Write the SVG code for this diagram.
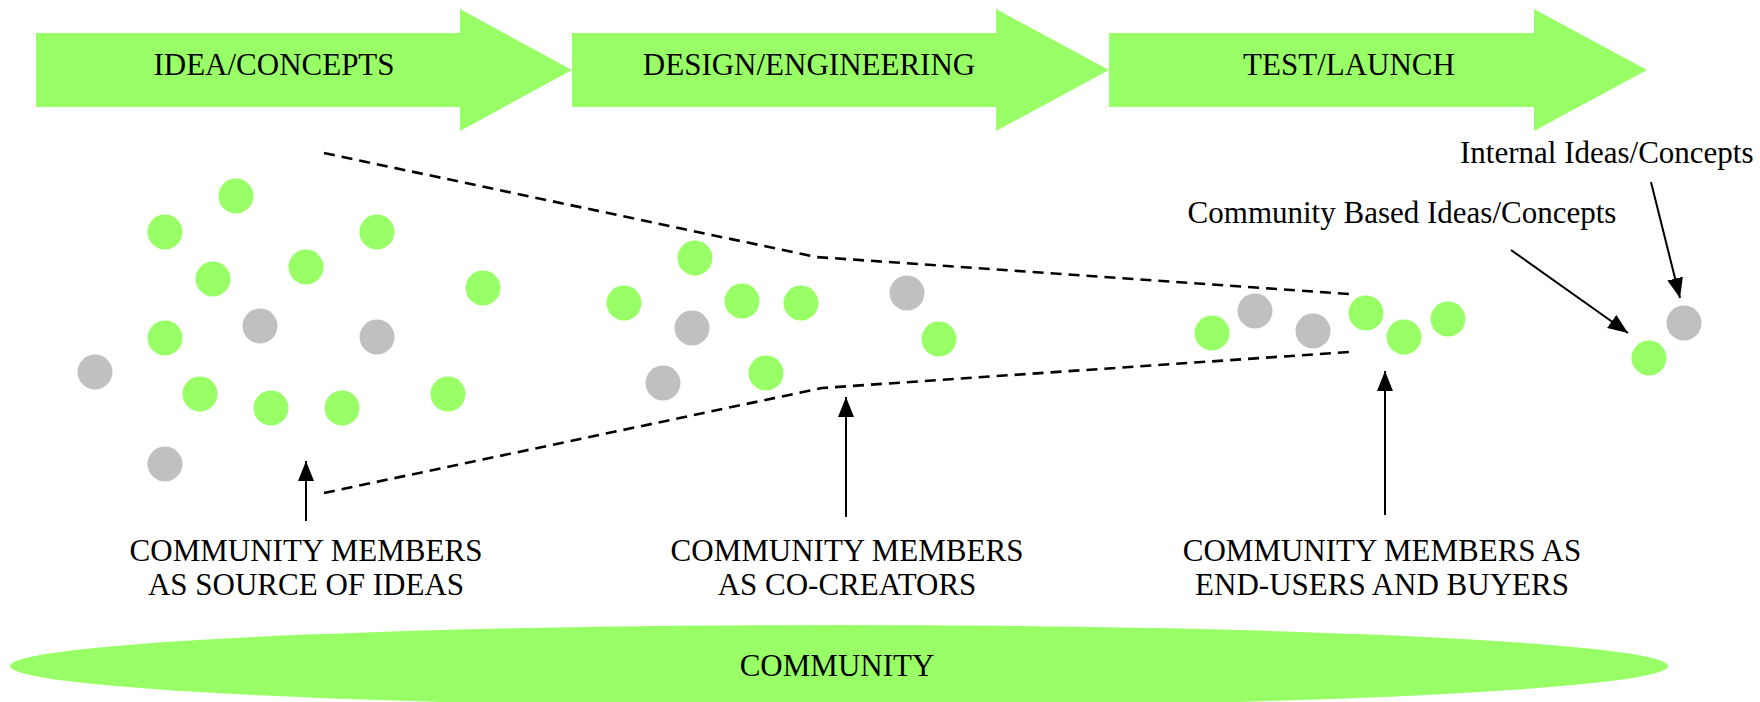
<svg xmlns="http://www.w3.org/2000/svg" width="1760" height="702" viewBox="0 0 1760 702">
<defs>
<style>
.stage{fill:#99FF66;}
.g{fill:#99FF66;}
.x{fill:#C0C0C0;}
.t{font-family:"Liberation Serif","Times New Roman",serif;font-size:31px;fill:#000;}
.c{text-anchor:middle;}
.dash{fill:none;stroke:#000;stroke-width:2.6;stroke-dasharray:11 7;stroke-linejoin:round;}
.ar{stroke:#000;stroke-width:2;fill:none;marker-end:url(#ah);}
</style>
<marker id="ah" markerUnits="userSpaceOnUse" markerWidth="22" markerHeight="18" refX="20" refY="8" orient="auto">
<path d="M0,0 L20,8 L0,16 z" fill="#000"/>
</marker>
</defs>
<rect width="1760" height="702" fill="#fff"/>

<g id="stage-idea">
<polygon class="stage" points="36,33 460,33 460,9 572,70 460,131 460,107 36,107"/>
<text class="t c" x="274" y="75">IDEA/CONCEPTS</text>
</g>
<g id="stage-design">
<polygon class="stage" points="572,33 996,33 996,9 1109,70 996,131 996,107 572,107"/>
<text class="t c" x="809" y="75">DESIGN/ENGINEERING</text>
</g>
<g id="stage-test">
<polygon class="stage" points="1109,33 1534,33 1534,9 1647,70 1534,131 1534,107 1109,107"/>
<text class="t c" x="1349" y="75">TEST/LAUNCH</text>
</g>

<g id="community">
<ellipse class="stage" cx="839" cy="666" rx="829" ry="41"/>
<text class="t c" x="837" y="676">COMMUNITY</text>
</g>

<g id="funnel">
<path class="dash" d="M324,153 L816,257 L1349,294"/>
<path class="dash" d="M324,493 L822,388 L1349,352"/>
</g>

<g id="ideas-left">
<circle class="g" cx="236" cy="196" r="17.5"/>
<circle class="g" cx="165" cy="232" r="17.5"/>
<circle class="g" cx="377" cy="232" r="17.5"/>
<circle class="g" cx="213" cy="279" r="17.5"/>
<circle class="g" cx="306" cy="267" r="17.5"/>
<circle class="g" cx="483" cy="288" r="17.5"/>
<circle class="g" cx="165" cy="338" r="17.5"/>
<circle class="g" cx="200" cy="394" r="17.5"/>
<circle class="g" cx="271" cy="408" r="17.5"/>
<circle class="g" cx="342" cy="408" r="17.5"/>
<circle class="g" cx="448" cy="394" r="17.5"/>
<circle class="x" cx="260" cy="326" r="17.5"/>
<circle class="x" cx="377" cy="337" r="17.5"/>
<circle class="x" cx="95" cy="372" r="17.5"/>
<circle class="x" cx="165" cy="464" r="17.5"/>
</g>

<g id="ideas-middle">
<circle class="g" cx="695" cy="258" r="17.5"/>
<circle class="g" cx="624" cy="303" r="17.5"/>
<circle class="g" cx="742" cy="301" r="17.5"/>
<circle class="g" cx="801" cy="303" r="17.5"/>
<circle class="g" cx="766" cy="373" r="17.5"/>
<circle class="g" cx="939" cy="339" r="17.5"/>
<circle class="x" cx="692" cy="328" r="17.5"/>
<circle class="x" cx="663" cy="383" r="17.5"/>
<circle class="x" cx="907" cy="293" r="17.5"/>
</g>

<g id="ideas-right">
<circle class="g" cx="1212" cy="333" r="17.5"/>
<circle class="x" cx="1255" cy="311" r="17.5"/>
<circle class="x" cx="1313" cy="331" r="17.5"/>
<circle class="g" cx="1366" cy="313" r="17.5"/>
<circle class="g" cx="1404" cy="337" r="17.5"/>
<circle class="g" cx="1448" cy="319" r="17.5"/>
</g>

<g id="final-ideas">
<circle class="g" cx="1649" cy="358" r="17.5"/>
<circle class="x" cx="1684" cy="323" r="17.5"/>
</g>

<g id="connectors">
<line class="ar" x1="306" y1="521" x2="306" y2="461"/>
<line class="ar" x1="846" y1="517" x2="846" y2="397"/>
<line class="ar" x1="1385" y1="515" x2="1385" y2="371"/>
<line class="ar" x1="1511" y1="250" x2="1628" y2="333"/>
<line class="ar" x1="1651" y1="182" x2="1680" y2="298"/>
</g>

<g id="label-source">
<text class="t c" x="306" y="561">COMMUNITY MEMBERS</text>
<text class="t c" x="306" y="595">AS SOURCE OF IDEAS</text>
</g>
<g id="label-cocreators">
<text class="t c" x="847" y="561">COMMUNITY MEMBERS</text>
<text class="t c" x="847" y="595">AS CO-CREATORS</text>
</g>
<g id="label-endusers">
<text class="t c" x="1382" y="561">COMMUNITY MEMBERS AS</text>
<text class="t c" x="1382" y="595">END-USERS AND BUYERS</text>
</g>
<g id="label-community-based">
<text class="t c" x="1402" y="223">Community Based Ideas/Concepts</text>
</g>
<g id="label-internal">
<text class="t" x="1460" y="163">Internal Ideas/Concepts</text>
</g>
</svg>
